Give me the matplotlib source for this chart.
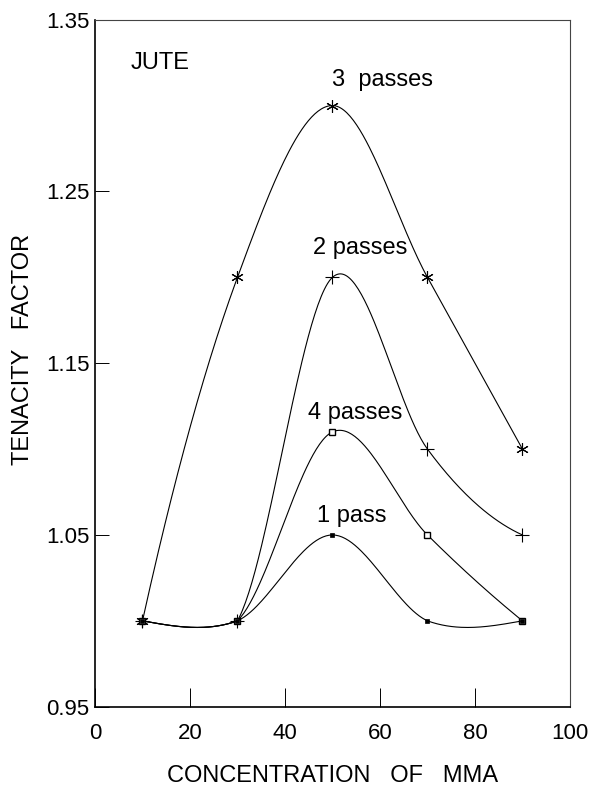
"""
Factor de tenacidad del yute frente a la concentración de MMA
"""

# librerias
import numpy as np
import matplotlib
matplotlib.use("Agg")
import matplotlib.pyplot as plt

plt.rcParams['font.family'] = ['Liberation Sans', 'DejaVu Sans']

# datos
concentracion = [10, 30, 50, 70, 90]
pasada_1 = [1.00, 1.00, 1.05, 1.00, 1.00]
pasadas_2 = [1.00, 1.00, 1.20, 1.10, 1.05]
pasadas_3 = [1.00, 1.20, 1.30, 1.20, 1.10]
pasadas_4 = [1.00, 1.00, 1.11, 1.05, 1.00]
etiquetas_x = [0, 20, 40, 60, 80, 100]
etiquetas_y = [0.95, 1.05, 1.15, 1.25, 1.35]


def curva_suave(x, y, puntos_por_tramo=60):
    """
    Curva de Hermite por tramos (pendientes tipo Catmull-Rom).
    En los tramos planos se deja una pequeña comba, como en el original.
    """
    x = np.asarray(x, float)
    y = np.asarray(y, float)
    n = len(x)
    m = np.diff(y) / np.diff(x)
    # pendientes en los nodos
    d = np.zeros(n)
    d[1:-1] = (y[2:] - y[:-2]) / (x[2:] - x[:-2])
    d[0] = (3 * m[0] - m[1]) / 2
    d[-1] = (3 * m[-1] - m[-2]) / 2

    xs_total, ys_total = [], []
    for i in range(n - 1):
        d0, d1 = d[i], d[i + 1]
        if m[i] == 0:
            # tramo plano: pequeña comba hacia abajo
            if i + 2 < n:
                d1 = 0.001 * np.sign(m[i + 1])
            if i - 1 >= 0:
                d0 = 0.001 * np.sign(m[i - 1])
            if i == 0:
                d0 = -0.5 * d1
            if i + 1 == n - 1:
                d1 = -0.5 * d0
        h = x[i + 1] - x[i]
        t = np.linspace(0, 1, puntos_por_tramo)
        h00 = 2 * t**3 - 3 * t**2 + 1
        h10 = t**3 - 2 * t**2 + t
        h01 = -2 * t**3 + 3 * t**2
        h11 = t**3 - t**2
        xs_total.append(x[i] + t * h)
        ys_total.append(h00 * y[i] + h10 * h * d0 + h01 * y[i + 1] + h11 * h * d1)
    return np.concatenate(xs_total), np.concatenate(ys_total)


fig = plt.figure(figsize=(5.9, 7.87), dpi=100)
ax = fig.add_axes([0.161, 0.102, 0.805, 0.873])

series = [
    (pasadas_3, dict(marker=(6, 2, 0), markersize=9, mew=0.8)),
    (pasadas_2, dict(marker='+', markersize=10, mew=0.8)),
    (pasadas_4, dict(marker='s', markersize=4.5, mew=1.0, mfc='white')),
    (pasada_1, dict(marker='s', markersize=3, mew=0.5)),
]
for valores, estilo in series:
    cx, cy = curva_suave(concentracion, valores)
    ax.plot(cx, cy, color='black', lw=0.8)
    ax.plot(concentracion, valores, ls='none', color='black', **estilo)

ax.set_xlim(0, 100)
ax.set_ylim(0.95, 1.35)
ax.set_xticks(etiquetas_x)
ax.set_yticks(etiquetas_y)
ax.set_yticklabels([f"{v:.2f}" for v in etiquetas_y])
ax.tick_params(axis='x', direction='in', length=14, width=0.7, labelsize=16, pad=12)
ax.tick_params(axis='y', direction='in', length=10, width=0.7, labelsize=16, pad=4)
for lado in ['left', 'bottom']:
    ax.spines[lado].set_linewidth(1.2)
for lado in ['top', 'right']:
    ax.spines[lado].set_linewidth(0.8)
    ax.spines[lado].set_color('#444444')

ax.set_xlabel("CONCENTRATION   OF   MMA", fontsize=17, labelpad=15)
ax.set_ylabel("TENACITY   FACTOR", fontsize=17, va='center')
ax.yaxis.set_label_coords(-0.152, 0.52)

ax.text(7.4, 1.325, "JUTE", fontsize=17, ha='left', va='center')
ax.text(60.6, 1.315, "3  passes", fontsize=17, ha='center', va='center')
ax.text(55.8, 1.217, "2 passes", fontsize=17, ha='center', va='center')
ax.text(54.7, 1.121, "4 passes", fontsize=17, ha='center', va='center')
ax.text(54.1, 1.061, "1 pass", fontsize=17, ha='center', va='center')

fig.savefig("out.png", dpi=100)
